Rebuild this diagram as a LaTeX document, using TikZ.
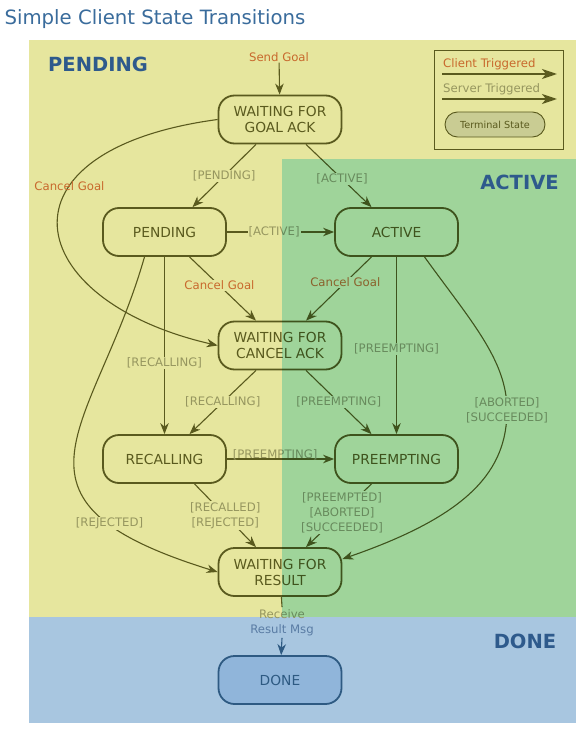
\documentclass[tikz,border=0pt]{standalone}
\usepackage{fontspec}
\setmainfont{DejaVu Sans}
\usepackage{xcolor}
\usetikzlibrary{positioning, arrows.meta, calc}
\definecolor{pendyellow}{HTML}{E6E69E}
\definecolor{actgreen}{HTML}{B1ECFA}
\definecolor{doneblue}{HTML}{A8C6E0}
\definecolor{doneboxblue}{HTML}{90B5DA}
\definecolor{donedark}{HTML}{2E5A82}
\definecolor{receiveblue}{HTML}{5A7CA4}
\definecolor{titleblue}{HTML}{3A6C9C}
\definecolor{regionblue}{HTML}{2E5A8C}
\definecolor{olivedark}{HTML}{5A5A1E}
\definecolor{clientorange}{HTML}{C8692D}
\definecolor{servergrey}{HTML}{96965F}
\definecolor{termfill}{HTML}{C9CC93}

\tikzset{
  state/.style={draw=olivedark, line width=1.8pt, rounded corners=16pt,
    minimum width=123pt, minimum height=48pt, inner sep=0pt, align=center,
    text=olivedark, font=\fontsize{13.8}{16}\selectfont},
  trans/.style={draw=olivedark, line width=1.1pt,
    -{Stealth[length=11pt, width=8.5pt, inset=3.5pt]}},
  legarrow/.style={draw=olivedark, line width=2pt,
    -{Stealth[length=15pt, width=10pt, inset=4pt]}},
  srvlbl/.style={fill=pendyellow, text=servergrey, align=center, inner sep=1pt,
    font=\fontsize{11.7}{15}\selectfont},
  clilbl/.style={srvlbl, text=clientorange},
  region/.style={text=regionblue, font=\bfseries\fontsize{19.5}{22}\selectfont},
}

\begin{document}
\begin{tikzpicture}[x=1pt, y=-1pt]
  % page and regions
  \useasboundingbox (0,0) rectangle (585,733);
  \fill[white] (0,0) rectangle (585,733);
  \fill[pendyellow] (29,40) rectangle (576,617);
  \fill[doneblue] (29,617) rectangle (576,723);
  \node[anchor=west, text=titleblue, font=\fontsize{19.7}{22}\selectfont] (title) at (1,19) {Simple Client State Transitions};
  \node[region] (pendlbl) at (98,64) {PENDING};
  \node[region] (donelbl) at (525,641) {DONE};

  % legend
  \node[draw=olivedark, line width=0.9pt, minimum width=129pt, minimum height=99pt] (legend) at (498.5,99.5) {};
  \node[anchor=west, text=clientorange, inner sep=0pt, font=\fontsize{11.7}{14}\selectfont] (clitxt) at (443,64) {Client Triggered};
  \node[anchor=west, text=servergrey, inner sep=0pt, font=\fontsize{11.7}{14}\selectfont] (srvtxt) at (443,89) {Server Triggered};
  \coordinate (cli0) at (442,74);
  \coordinate (cli1) at (557,74);
  \coordinate (srv0) at (442,99);
  \coordinate (srv1) at (557,99);
  \draw[legarrow] (cli0) -- (cli1);
  \draw[legarrow] (srv0) -- (srv1);
  \node[state, fill=termfill, line width=0.9pt, rounded corners=12.5pt, minimum width=100pt, minimum height=25pt,
        font=\fontsize{9.7}{11}\selectfont] (term) at (495,124.5) {Terminal State};

  % states
  \node[state] (wga) at (280,119.5) {WAITING FOR\\GOAL ACK};
  \node[state] (pending) at (164.5,232) {PENDING};
  \node[state] (active) at (396.5,232) {ACTIVE};
  \node[state] (wfca) at (280,345.5) {WAITING FOR\\CANCEL ACK};
  \node[state] (recalling) at (164.5,459) {RECALLING};
  \node[state] (preempting) at (396.5,459) {PREEMPTING};
  \node[state] (wfr) at (280,572) {WAITING FOR\\RESULT};
  \node[state, draw=donedark, fill=doneboxblue, text=donedark] (done) at (280,680) {DONE};

  % transitions
  \node[clilbl, fill=none] (sendlbl) at (279,57) {Send Goal};
  \draw[trans] (sendlbl) -- (wga);
  \draw[trans] ([xshift=-24pt]wga.south) -- node[srvlbl]{[PENDING]} ([xshift=28pt]pending.north);
  \draw[trans] ([xshift=26pt]wga.south) -- node[srvlbl, pos=0.55]{[ACTIVE]} ([xshift=-25pt]active.north);
  \draw[trans] (wga.west) .. controls (-10,150) and (20,300) .. node[clilbl, fill=none, pos=0.35]{Cancel Goal} (wfca.west);
  \draw[trans] (pending) -- node[srvlbl, pos=0.44]{[ACTIVE]} (active);
  \draw[trans] ([xshift=25pt]pending.south) -- node[clilbl, pos=0.45]{Cancel Goal} ([xshift=-24pt]wfca.north);
  \draw[trans] ([xshift=-25pt]active.south) -- node[clilbl, pos=0.4]{Cancel Goal} ([xshift=26pt]wfca.north);
  \draw[trans] (pending) -- node[srvlbl, pos=0.6]{[RECALLING]} (recalling);
  \draw[trans] (active) -- node[srvlbl, pos=0.52]{[PREEMPTING]} (preempting);
  \draw[trans] ([xshift=-24pt]wfca.south) -- node[srvlbl]{[RECALLING]} ([xshift=25pt]recalling.north);
  \draw[trans] ([xshift=26pt]wfca.south) -- node[srvlbl]{[PREEMPTING]} ([xshift=-25pt]preempting.north);
  \draw[trans] (recalling) -- node[srvlbl, fill=none, pos=0.45, above=-2.5pt]{[PREEMPTING]} (preempting);
  \draw[trans] ([xshift=-20pt]pending.south) .. controls (95,430) and (-15,500) .. node[srvlbl, pos=0.78]{[REJECTED]} (wfr.west);
  \draw[trans] ([xshift=30pt]recalling.south) -- node[srvlbl]{[RECALLED]\\{}[REJECTED]} ([xshift=-24pt]wfr.north);
  \draw[trans] ([xshift=-25pt]preempting.south) -- node[srvlbl, pos=0.45]{[PREEMPTED]\\{}[ABORTED]\\{}[SUCCEEDED]} ([xshift=26pt]wfr.north);
  \draw[trans] ([xshift=28pt]active.south) .. controls (470,320) and (507,360) .. (507,410)
    node[srvlbl]{[ABORTED]\\{}[SUCCEEDED]} .. controls (507,470) and (470,515) .. ([yshift=13pt]wfr.east);
  \node[text=receiveblue, align=center, inner sep=0pt, font=\fontsize{11.7}{15}\selectfont] (rcvlbl) at (282,622.5)
    {{\color{servergrey}Receive}\\Result Msg};
  \draw[olivedark, line width=1.1pt] (wfr) -- ([yshift=2pt]rcvlbl.north);
  \draw[trans, draw=donedark] ([yshift=-2pt]rcvlbl.south) -- (done);

  % active region laid over
  \begin{scope}[blend mode=multiply]
    \fill[actgreen] (282,159) rectangle (576,617);
  \end{scope}
  \node[region] (actlbl) at (519.5,182) {ACTIVE};
\end{tikzpicture}
\end{document}
